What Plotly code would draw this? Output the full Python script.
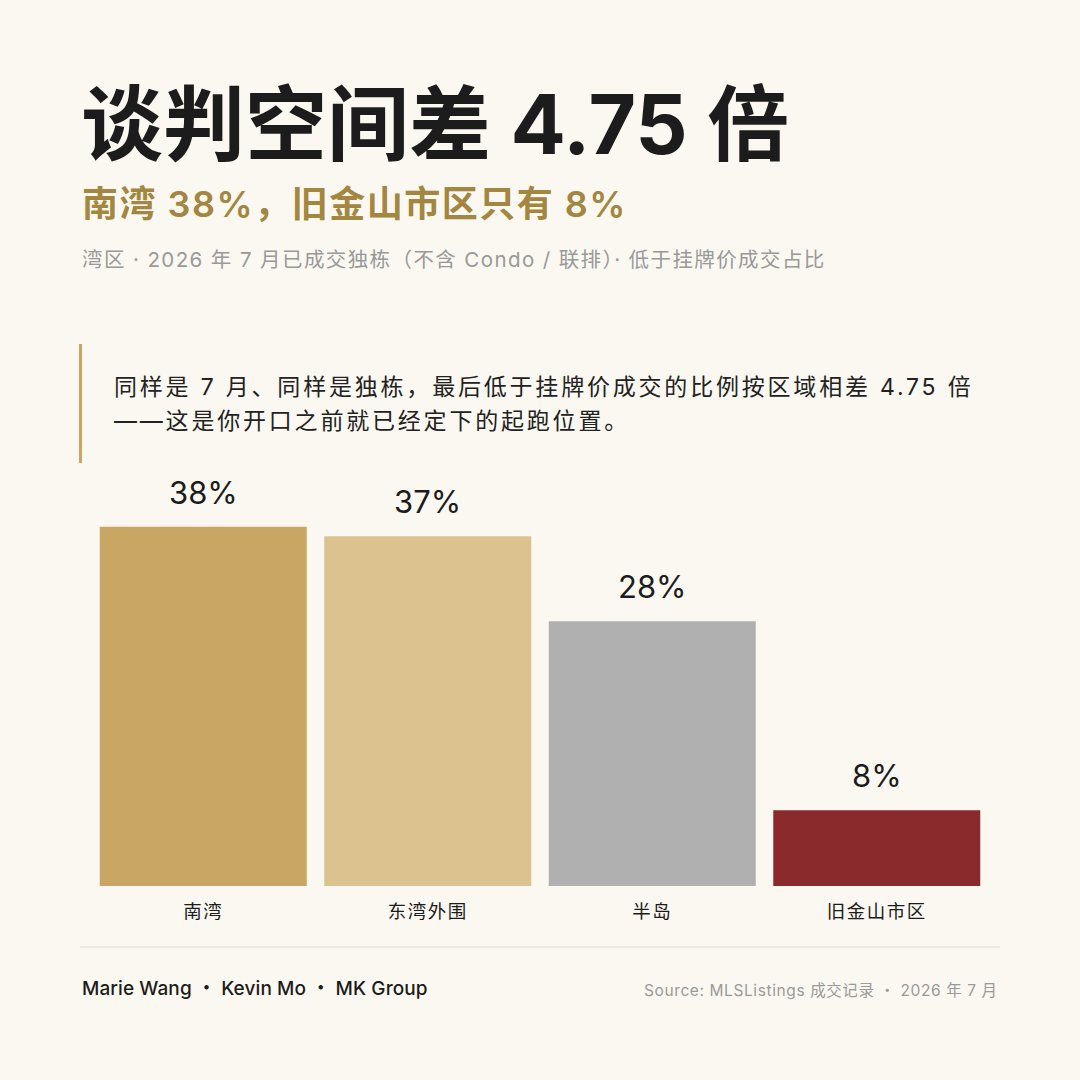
import plotly.graph_objects as go

categories = ["南湾", "东湾外围", "半岛", "旧金山市区"]
values = [38, 37, 28, 8]
value_labels = ["38%", "37%", "28%", "8%"]
bar_colors = ["#C9A664", "#DCC28F", "#B0B0B0", "#8B2A2D"]

title = "谈判空间差 4.75 倍"
subtitle = "南湾 38%，旧金山市区只有 8%"
subnote = "湾区 · 2026 年 7 月已成交独栋（不含 Condo / 联排）· 低于挂牌价成交占比"
quote_lines = ["同样是 7 月、同样是独栋，最后低于挂牌价成交的比例按区域相差 4.75 倍",
               "——这是你开口之前就已经定下的起跑位置。"]
footer_left = "Marie Wang · Kevin Mo · MK Group"
footer_right = "Source: MLSListings 成交记录 · 2026 年 7 月"

W = H = 1080
BG = "#FBF8F1"
FONT = "Inter, 'Noto Sans CJK SC', sans-serif"
CJK = "Noto Sans CJK SC"


def px(x):
    return x / W


def py(y):
    return 1 - y / H


def styled(text, ls, cjk_dot=True):
    """Wrap text segments in spans with letter-spacing; middle dots optionally use the CJK font."""
    if not cjk_dot:
        return f'<span style="letter-spacing:{ls}px">{text}</span>'
    parts = text.split("·")
    out = []
    for i, p in enumerate(parts):
        if p:
            out.append(f'<span style="letter-spacing:{ls}px">{p}</span>')
        if i < len(parts) - 1:
            out.append(f'<span style="font-family:{CJK};letter-spacing:{ls}px">·</span>')
    return "".join(out)


fig = go.Figure()
fig.add_trace(go.Bar(
    x=categories, y=values, marker=dict(color=bar_colors, line=dict(width=0)),
    hoverinfo="skip", showlegend=False,
))

ann = []
ann.append(dict(text=styled(title, 0), x=px(79), y=py(124), xref="paper", yref="paper",
                xanchor="left", yanchor="middle", align="left", showarrow=False,
                font=dict(size=82, color="#1C1C1C", family=FONT, weight=700)))
ann.append(dict(text=styled(subtitle, 1.5), x=px(80), y=py(204), xref="paper", yref="paper",
                xanchor="left", yanchor="middle", align="left", showarrow=False,
                font=dict(size=36, color="#A38640", family=FONT, weight=600)))
ann.append(dict(text=styled(subnote, 1.4, cjk_dot=False), x=px(80), y=py(260), xref="paper", yref="paper",
                xanchor="left", yanchor="middle", align="left", showarrow=False,
                font=dict(size=20.5, color="#999999", family=FONT)))
for i, line in enumerate(quote_lines):
    ann.append(dict(text=styled(line, 2.8), x=px(112), y=py(387 + 34 * i), xref="paper", yref="paper",
                    xanchor="left", yanchor="middle", align="left", showarrow=False,
                    font=dict(size=23, color="#222222", family=FONT)))
for c, v, t in zip(categories, values, value_labels):
    ann.append(dict(text=t, x=c, y=v, xref="x", yref="y", xanchor="center",
                    yanchor="bottom", yshift=14, showarrow=False,
                    font=dict(size=31, color="#1C1C1C", family=FONT)))
ann.append(dict(text=styled(footer_left, 0.1), x=px(80), y=py(986), xref="paper", yref="paper",
                xanchor="left", yanchor="middle", align="left", showarrow=False,
                font=dict(size=19, color="#1C1C1C", family=FONT, weight=500)))
ann.append(dict(text=styled(footer_right, 0.6), x=px(1000), y=py(989), xref="paper", yref="paper",
                xanchor="right", yanchor="middle", align="right", showarrow=False,
                font=dict(size=15.5, color="#9A9A9A", family=FONT)))

shapes = [
    dict(type="line", xref="paper", yref="paper", x0=px(80.5), x1=px(80.5),
         y0=py(344), y1=py(463), line=dict(color="#C9A664", width=3)),
    dict(type="line", xref="paper", yref="paper", x0=px(80), x1=px(1000),
         y0=py(947), y1=py(947), line=dict(color="#DDDAD3", width=1)),
]

fig.update_layout(
    width=W, height=H,
    paper_bgcolor=BG, plot_bgcolor=BG,
    margin=dict(l=0, r=0, t=0, b=0),
    bargap=0.078,
    annotations=ann, shapes=shapes,
    font=dict(family=FONT),
    xaxis=dict(domain=[px(91), px(989)], showgrid=False, zeroline=False, showline=False,
               ticks="", tickmode="array", tickvals=categories,
               ticktext=[styled(c, 1.5) for c in categories],
               tickfont=dict(size=18.5, color="#1C1C1C", family=FONT),
               ticklabelstandoff=12, fixedrange=True),
    yaxis=dict(domain=[py(886), py(470)], range=[0, 44], showgrid=False, zeroline=False,
               showline=False, showticklabels=False, ticks="", fixedrange=True),
)

fig.write_html(
    "out.html",
    config={"displayModeBar": False},
    post_script="document.body.style.margin='0';document.body.style.background='%s';" % BG,
)
